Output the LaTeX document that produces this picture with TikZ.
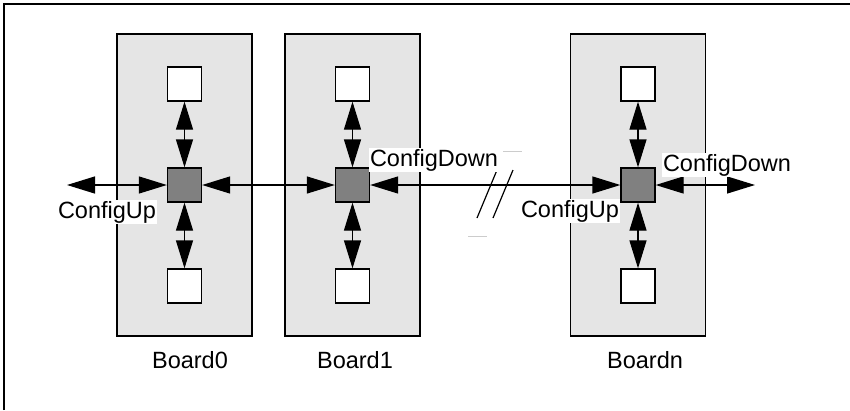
\documentclass[tikz,border=0pt]{standalone}
\usepackage{fontspec}
\setmainfont{Liberation Sans}
\usetikzlibrary{arrows.meta}
\definecolor{boardgray}{gray}{0.90}
\definecolor{hubgray}{gray}{0.50}
\begin{document}
\begin{tikzpicture}[x=1pt,y=-1pt,
  board/.style={draw, fill=boardgray, line width=1.3pt, minimum width=135pt, minimum height=302pt, inner sep=0pt},
  cell/.style={draw, fill=white, line width=1.3pt, minimum size=34pt, inner sep=0pt},
  hub/.style={draw, fill=hubgray, line width=1.3pt, minimum size=34pt, inner sep=0pt},
  bigtip/.tip={Triangle[length=28pt,width=17pt]},
  link/.style={line width=1.3pt, bigtip-bigtip},
  lbl/.style={fill=white, inner sep=1pt, anchor=base, font=\fontsize{23.5}{28}\selectfont},
  boardcap/.style={inner sep=0pt, anchor=base, font=\fontsize{23.5}{28}\selectfont},
]
\useasboundingbox (0,0) rectangle (850,410);
% frame edges
\draw[line width=1.5pt] (4,410) -- (4,4) -- (850,4);

% boards with their three cells
\foreach \n/\x in {0/184.5, 1/352.5, n/638} {
  \node[board] (b\n) at (\x,185) {};
  \node[cell] (t\n) at (\x,84) {};
  \node[cell] (u\n) at (\x,286) {};
  \node[hub]  (h\n) at (\x,185) {};
  \draw[link] (t\n) -- (h\n);
  \draw[link] (u\n) -- (h\n);
}

% chain links
\coordinate (cl) at (67,185);
\coordinate (cr) at (755,185);
\draw[link] (cl) -- (h0);
\draw[link] (h0) -- (h1);
\draw[link] (h1) -- (hn);
\draw[link] (hn) -- (cr);

% break mark
\draw[line width=1.2pt] (497,170) -- (477,218);
\draw[line width=1.2pt] (513,170) -- (493,218);
\draw[gray!40, line width=0.8pt] (503,151) -- (522,151);
\draw[gray!40, line width=0.8pt] (468,236) -- (487,236);

% labels
\node[lbl] (lup)  at (107,218) {ConfigUp};
\node[lbl] (ldn1) at (434,166) {ConfigDown};
\node[lbl] (lupn) at (570,217) {ConfigUp};
\node[lbl] (ldnn) at (727,171) {ConfigDown};

\node[boardcap] (c0) at (190,368) {Board0};
\node[boardcap] (c1) at (355,368) {Board1};
\node[boardcap] (cn) at (645,368) {Boardn};
\end{tikzpicture}
\end{document}
